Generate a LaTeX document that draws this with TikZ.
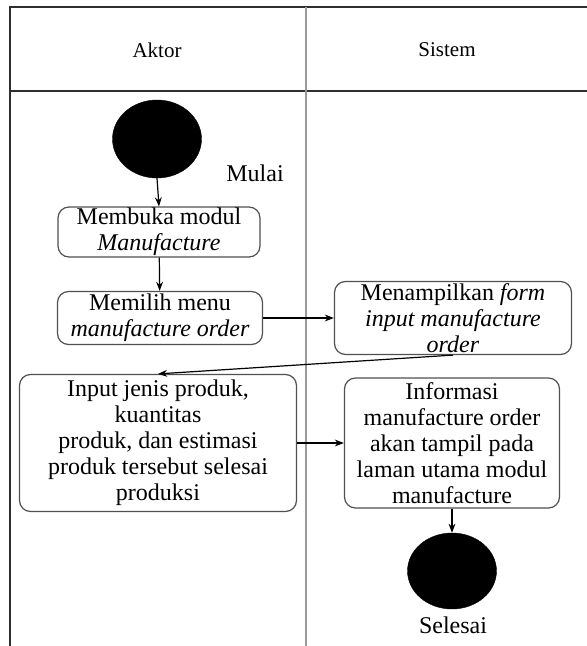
\documentclass[tikz,border=0pt]{standalone}
\usepackage{fontspec}
\setmainfont{Liberation Serif}
\usepackage{tikz}
\usetikzlibrary{arrows.meta,positioning,shapes.geometric}
\definecolor{laneline}{HTML}{2E2E2E}
\definecolor{lanegray}{HTML}{9A9A9A}
\definecolor{boxline}{HTML}{505050}
\tikzset{
  >={Stealth[length=3.2mm,width=2.4mm]},
  % jalur
  lane/.style={draw=laneline,line width=1.6pt},
  lanemid/.style={draw=lanegray,line width=2.6pt},
  lanehd/.style={font=\fontsize{21}{24}\selectfont,inner sep=0pt},
  % aktivitas
  act/.style={draw=boxline,line width=1.2pt,rounded corners=11pt,fill=white,
              align=center,inner sep=0pt,font=\fontsize{24}{26}\selectfont},
  dot/.style={ellipse,fill=black,draw=black,inner sep=0pt},
  lbl/.style={font=\fontsize{24}{26}\selectfont,inner sep=0pt},
  flow/.style={->,draw=black,line width=1.2pt},
}
\begin{document}
\begin{tikzpicture}[x=1pt,y=-1pt]
\useasboundingbox (0,0) rectangle (587,646);
  % swimlane
  \draw[lane] (10,646) -- (10,7) -- (587,7);
  \draw[lane] (10,91) -- (587,91);
  \draw[lanemid] (306,7) -- (306,646);
  \node[lanehd] (aktor) at (157,50) {Aktor};
  \node[lanehd] (sistem) at (447,50) {Sistem};
  % node
  \node[dot,minimum width=89pt,minimum height=78pt] (mulai) at (157,139) {};
  \node[lbl] (mulaitxt) at (255,173) {Mulai};
  \node[act,minimum width=202pt,minimum height=50pt] (buka) at (159,232)
    {Membuka modul\\\textit{Manufacture}};
  \node[act,minimum width=205pt,minimum height=53pt] (pilih) at (160,318)
    {Memilih menu\\\textit{manufacture order}};
  \node[act,minimum width=237pt,minimum height=73pt] (form) at (453,318)
    {Menampilkan \textit{form}\\\textit{input manufacture}\\\textit{order}};
  \node[act,minimum width=277pt,minimum height=137pt] (input) at (158,443)
    {Input jenis produk,\\kuantitas\\produk, dan estimasi\\produk tersebut selesai\\produksi};
  \node[act,minimum width=215pt,minimum height=130pt] (info) at (452,443)
    {Informasi\\manufacture order\\akan tampil pada\\laman utama modul\\manufacture};
  \node[dot,minimum width=89pt,minimum height=76pt] (selesai) at (452,571) {};
  \node[lbl] (selesaitxt) at (453,625) {Selesai};
  % alur
  \draw[flow] (mulai.south) -- (buka.north);
  \draw[flow] (buka) -- (pilih);
  \draw[flow] (pilih) -- (form);
  \draw[flow] (form.south) -- (input.north);
  \draw[flow] (input) -- (info);
  \draw[flow] (info) -- (selesai);
\end{tikzpicture}
\end{document}
